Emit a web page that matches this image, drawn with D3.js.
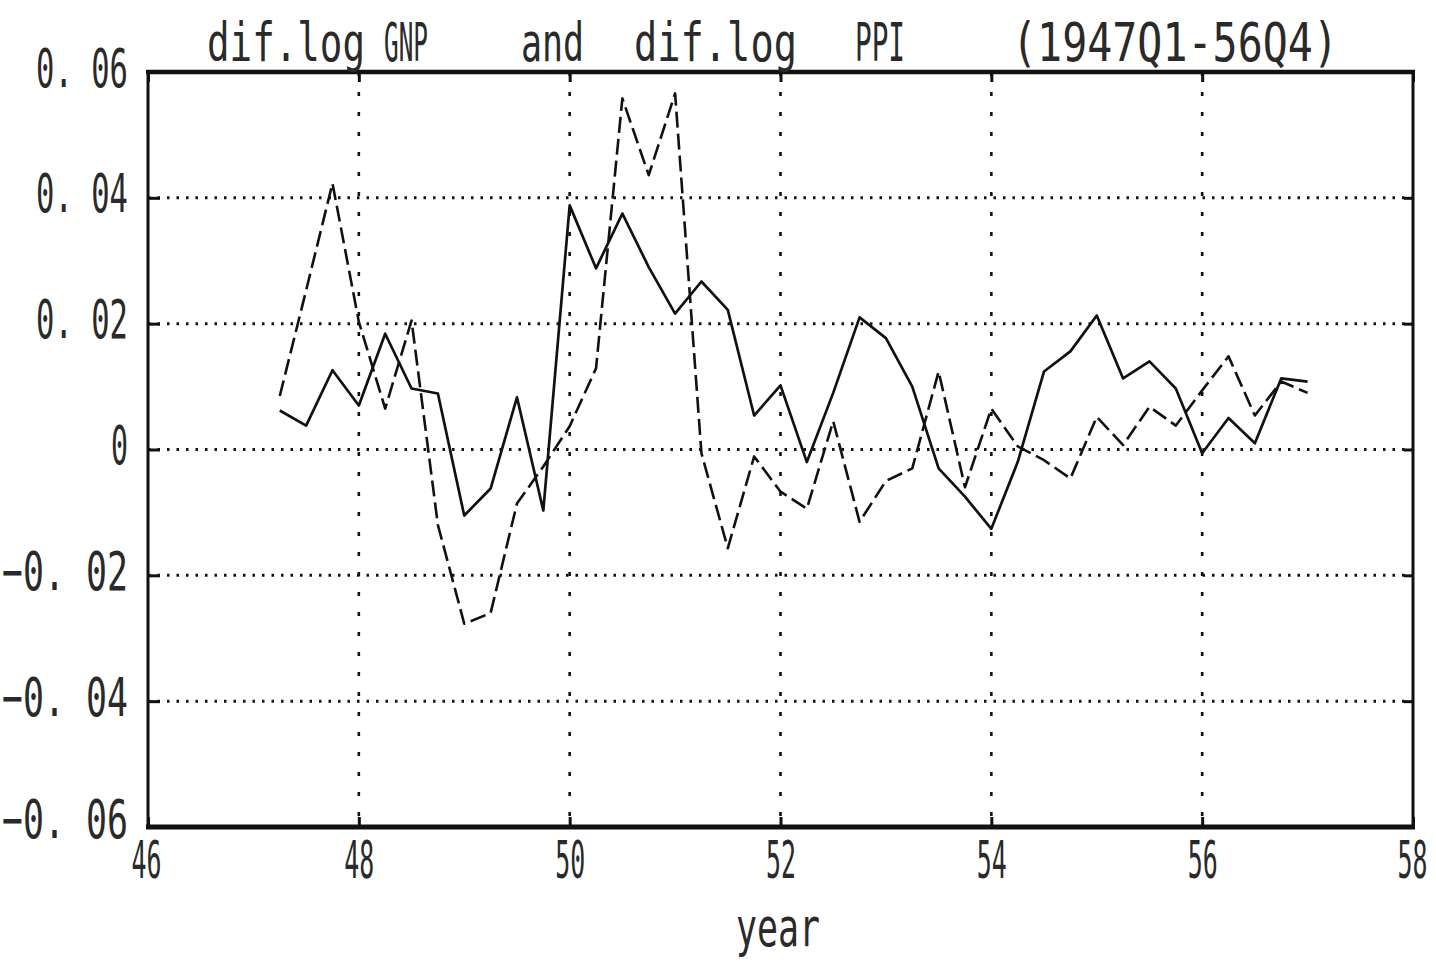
<!DOCTYPE html>
<html><head><meta charset="utf-8">
<script src="https://cdn.jsdelivr.net/npm/d3@7"></script>
<style>body{margin:0;background:#fff} svg{display:block}</style>
</head><body><svg id="c" width="1436" height="963"></svg>
<script>
// ---- data ----
const quarterX = [47.25,47.5,47.75,48.0,48.25,48.5,48.75,49.0,49.25,49.5,49.75,50.0,
  50.25,50.5,50.75,51.0,51.25,51.5,51.75,52.0,52.25,52.5,52.75,53.0,53.25,53.5,53.75,54.0,
  54.25,54.5,54.75,55.0,55.25,55.5,55.75,56.0,56.25,56.5,56.75,57.0];
const gnp = [0.0062,0.0038,0.0126,0.0070,0.0184,0.0097,0.0089,-0.0105,-0.0062,0.0083,-0.0097,0.0388,
  0.0288,0.0375,0.0290,0.0216,0.0267,0.0222,0.0054,0.0102,-0.0020,0.0090,0.0210,0.0177,0.0100,-0.0030,-0.0075,-0.0126,
  -0.0020,0.0124,0.0156,0.0213,0.0113,0.0140,0.0097,-0.0006,0.0050,0.0010,0.0113,0.0108];
const ppi = [0.0085,0.0253,0.0423,0.0203,0.0065,0.0205,-0.0120,-0.0277,-0.0260,-0.0086,-0.0027,0.0037,
  0.0129,0.0558,0.0436,0.0566,-0.0006,-0.0157,-0.0011,-0.0067,-0.0094,0.0045,-0.0115,-0.0050,-0.0030,0.0124,-0.0060,0.0065,
  0.0005,-0.0017,-0.0046,0.0052,0.0007,0.0068,0.0038,0.0094,0.0148,0.0054,0.0108,0.0090];
const xTicks = [46,48,50,52,54,56,58];
const xTickLabels = ["46","48","50","52","54","56","58"];
const yTicks = [-0.06,-0.04,-0.02,0,0.02,0.04,0.06];
const yTickLabels = ["\u22120. 06","\u22120. 04","\u22120. 02","0","0. 02","0. 04","0. 06"];
const titleParts = ["dif.log","GNP","and","dif.log","PPI","(1947Q1-56Q4)"];
const xAxisTitle = "year";

// ---- layout ----
const L = 148, R = 1413, T = 72, B = 827;
const svg = d3.select("#c");
const x = d3.scaleLinear().domain([46,58]).range([L,R]);
const y = d3.scaleLinear().domain([-0.06,0.06]).range([B,T]);
const FONT = "'DejaVu Sans Mono', monospace";
const ink = "#111";
const textInk = "#2a2a2a";

// horizontally squeeze a text element to a target width, keeping anchor position x0
function squeeze(el, target, x0){
  const w = el.getComputedTextLength();
  const sx = target / w;
  d3.select(el).attr("transform", `scale(${sx},1)`).attr("x", x0 / sx);
}

// grid
const g = svg.append("g");
g.selectAll(".hg").data(yTicks.slice(1,-1)).join("line")
  .attr("x1",L).attr("x2",R).attr("y1",d=>y(d)).attr("y2",d=>y(d))
  .attr("stroke",ink).attr("stroke-width",3).attr("stroke-dasharray","2.5,7");
g.selectAll(".vg").data(xTicks.slice(1,-1)).join("line")
  .attr("x1",d=>x(d)).attr("x2",d=>x(d)).attr("y1",T).attr("y2",B)
  .attr("stroke",ink).attr("stroke-width",2.6).attr("stroke-dasharray","4,16");

// axes with inward ticks
const ax = svg.append("g").attr("transform",`translate(0,${B})`)
  .call(d3.axisBottom(x).tickValues(xTicks).tickFormat((d,i)=>xTickLabels[i]).tickSize(-10).tickPadding(0));
const axT = svg.append("g").attr("transform",`translate(0,${T})`)
  .call(d3.axisTop(x).tickValues(xTicks).tickFormat("").tickSize(-10));
const ay = svg.append("g").attr("transform",`translate(${L},0)`)
  .call(d3.axisLeft(y).tickValues(yTicks).tickFormat((d,i)=>yTickLabels[i]).tickSize(-12).tickPadding(20));
const ayR = svg.append("g").attr("transform",`translate(${R},0)`)
  .call(d3.axisRight(y).tickValues(yTicks).tickFormat("").tickSize(-9));
[ax,axT,ay,ayR].forEach(a=>{
  a.select(".domain").remove();
  a.selectAll(".tick line").attr("stroke",ink).attr("stroke-width",3);
});
ax.selectAll(".tick text").attr("font-family",FONT).attr("font-size",52).attr("fill",textInk)
  .attr("dy",null).attr("y",51)
  .each(function(d,i){
    const off = i===0 ? -2 : (i===xTicks.length-1 ? -1 : 0);
    squeeze(this, 30, off);
  });
ay.selectAll(".tick text").attr("font-family",FONT).attr("font-size",53).attr("fill",textInk)
  .attr("dy",null).attr("y",d=>d===-0.06?10:14)
  .each(function(){
    const s = this.textContent;
    const target = s.length===1 ? 17 : (s[0]==="\u2212" ? 126 : 92);
    squeeze(this, target, -20);
  });

// frame
svg.append("line").attr("x1",L-2).attr("x2",R+2).attr("y1",T).attr("y2",T).attr("stroke",ink).attr("stroke-width",4.5);
svg.append("line").attr("x1",L-2).attr("x2",R+2).attr("y1",B).attr("y2",B).attr("stroke",ink).attr("stroke-width",5);
svg.append("line").attr("x1",L).attr("x2",L).attr("y1",T).attr("y2",B).attr("stroke",ink).attr("stroke-width",3);
svg.append("line").attr("x1",R).attr("x2",R).attr("y1",T).attr("y2",B).attr("stroke",ink).attr("stroke-width",3);

// series
const line = d3.line().x((d,i)=>x(quarterX[i])).y(d=>y(d));
svg.append("path").datum(gnp).attr("d",line).attr("fill","none").attr("stroke",ink)
  .attr("stroke-width",2.7).attr("stroke-linejoin","round");
svg.append("path").datum(ppi).attr("d",line).attr("fill","none").attr("stroke",ink)
  .attr("stroke-width",2.6).attr("stroke-dasharray","16,6").attr("stroke-linejoin","round");

// title pieces
const titleX = [207,384,521,634,855,1012];
const titleW = [158,44,63,163,50,326];
svg.selectAll(".tt").data(titleParts).join("text")
  .attr("y",61)
  .attr("font-family",FONT).attr("font-size",54).attr("fill",textInk)
  .text(d=>d)
  .each(function(d,i){ squeeze(this, titleW[i], titleX[i]); });

// x axis title
svg.append("text").attr("y",946).attr("text-anchor","middle")
  .attr("font-family",FONT).attr("font-size",54).attr("fill",textInk)
  .text(xAxisTitle)
  .each(function(){ squeeze(this, 84, 778); });
</script></body></html>
